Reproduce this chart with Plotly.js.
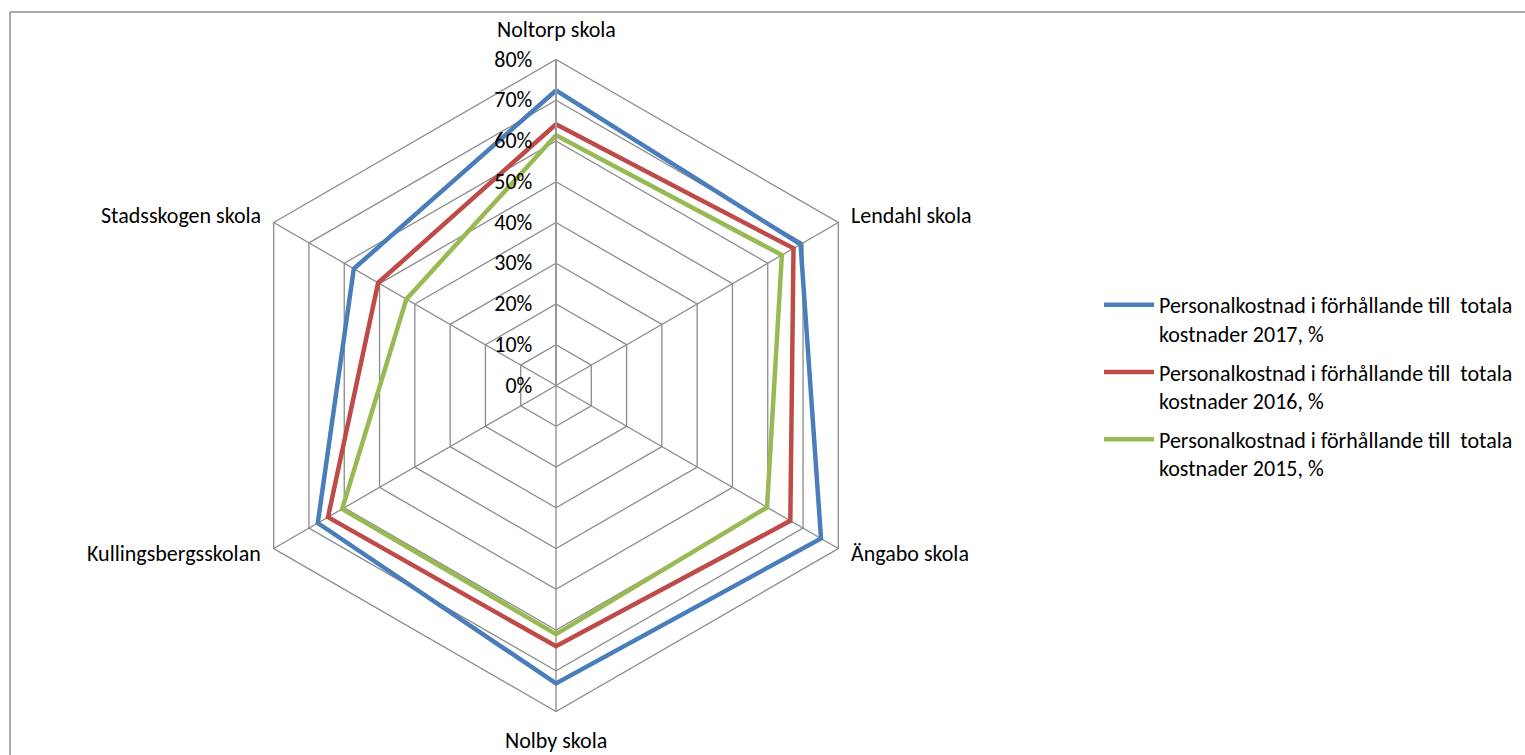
<!DOCTYPE html>
<html>
<head>
<meta charset="utf-8">
<script src="https://cdn.plot.ly/plotly-3.0.1.min.js"></script>
<style>
html,body{margin:0;padding:0;background:#fff;}
#chart{width:1525px;height:755px;}
</style>
</head>
<body>
<div id="chart"></div>
<script>
const categories = ["Noltorp skola", "Lendahl skola", "Ängabo skola", "Nolby skola", "Kullingsbergsskolan", "Stadsskogen skola"];
const seriesNames = [
  "Personalkostnad i förhållande till\u00a0 totala<br>kostnader 2017, %",
  "Personalkostnad i förhållande till\u00a0 totala<br>kostnader 2016, %",
  "Personalkostnad i förhållande till\u00a0 totala<br>kostnader 2015, %"
];
const values2017 = [72.4, 69.3, 75.1, 73.1, 67.5, 57.3];
const values2016 = [64.1, 67.3, 66.4, 64.0, 64.6, 50.4];
const values2015 = [61.4, 64.0, 59.8, 61.0, 60.6, 42.4];
const colors = ["#4A7EBB", "#BE4B48", "#98B954"];
const radialTicks = [0, 10, 20, 30, 40, 50, 60, 70, 80];

const FONT = "Carlito, Calibri, Lato, sans-serif";

function closed(a){ return a.concat([a[0]]); }

const allSeries = [values2017, values2016, values2015];
const traces = allSeries.map((vals, i) => ({
  type: "scatterpolar",
  mode: "lines",
  r: closed(vals),
  theta: closed(categories),
  name: seriesNames[i],
  legendgroup: "g" + i,
  line: {color: colors[i], width: 4.5},
  hoverinfo: "skip"
}));

const W = 1525, H = 755;
const cx = 556, cy = 385.5, R = 326;

// category labels placed just outside each hexagon vertex
const annotations = categories.map((c, i) => {
  const a = i * Math.PI * 2 / categories.length;
  const s = Math.sin(a), co = Math.cos(a);
  const vx = cx + R * s, vy = cy - R * co;
  let x, y, xanchor;
  if (Math.abs(s) < 0.01) {
    x = vx; y = vy + (co > 0 ? -30 : 29); xanchor = "center";
  } else {
    x = vx + (s > 0 ? 11 : -11);
    y = vy + (co > 0 ? -7 : 5);
    xanchor = s > 0 ? "left" : "right";
  }
  return {
    text: c, showarrow: false, xref: "paper", yref: "paper",
    x: x / W, y: (H - y) / H, xanchor: xanchor, yanchor: "middle",
    font: {family: FONT, size: 22, color: "#000"}
  };
});

const layout = {
  width: W, height: H,
  margin: {l: 0, r: 0, t: 0, b: 0},
  paper_bgcolor: "#fff",
  plot_bgcolor: "#fff",
  font: {family: FONT, size: 22, color: "#000"},
  showlegend: true,
  legend: {
    x: 1099 / W, xanchor: "left",
    y: (H - 284) / H, yanchor: "top",
    valign: "top",
    itemwidth: 50,
    tracegroupgap: 7,
    font: {family: FONT, size: 22, color: "#000"},
    bgcolor: "rgba(0,0,0,0)"
  },
  polar: {
    domain: {x: [(cx - R) / W, (cx + R) / W], y: [(H - cy - R) / H, (H - cy + R) / H]},
    gridshape: "linear",
    bgcolor: "#fff",
    angularaxis: {
      direction: "clockwise",
      rotation: 90,
      showline: true,
      linecolor: "#8c8c8c",
      linewidth: 1.3,
      showgrid: true,
      gridcolor: "#8c8c8c",
      gridwidth: 1.3,
      ticks: "",
      showticklabels: false
    },
    radialaxis: {
      angle: 90,
      side: "counterclockwise",
      range: [0, 80],
      tickvals: radialTicks,
      ticktext: radialTicks.map(v => v + "%"),
      showline: true,
      linecolor: "#999",
      linewidth: 2,
      showgrid: true,
      gridcolor: "#8c8c8c",
      gridwidth: 1.3,
      ticks: "outside",
      ticklen: 15,
      tickcolor: "rgba(0,0,0,0)",
      tickangle: 90,
      tickfont: {family: FONT, size: 22, color: "#000"}
    }
  },
  annotations: annotations,
  shapes: [
    {type: "line", xref: "paper", yref: "paper", x0: 10 / W, x1: 10 / W, y0: 0, y1: (H - 12) / H, line: {color: "#8c8c8c", width: 1.5}},
    {type: "line", xref: "paper", yref: "paper", x0: 10 / W, x1: 1, y0: (H - 12) / H, y1: (H - 12) / H, line: {color: "#8c8c8c", width: 1.5}}
  ]
};

Plotly.newPlot("chart", traces, layout, {displayModeBar: false, staticPlot: true});
</script>
</body>
</html>
